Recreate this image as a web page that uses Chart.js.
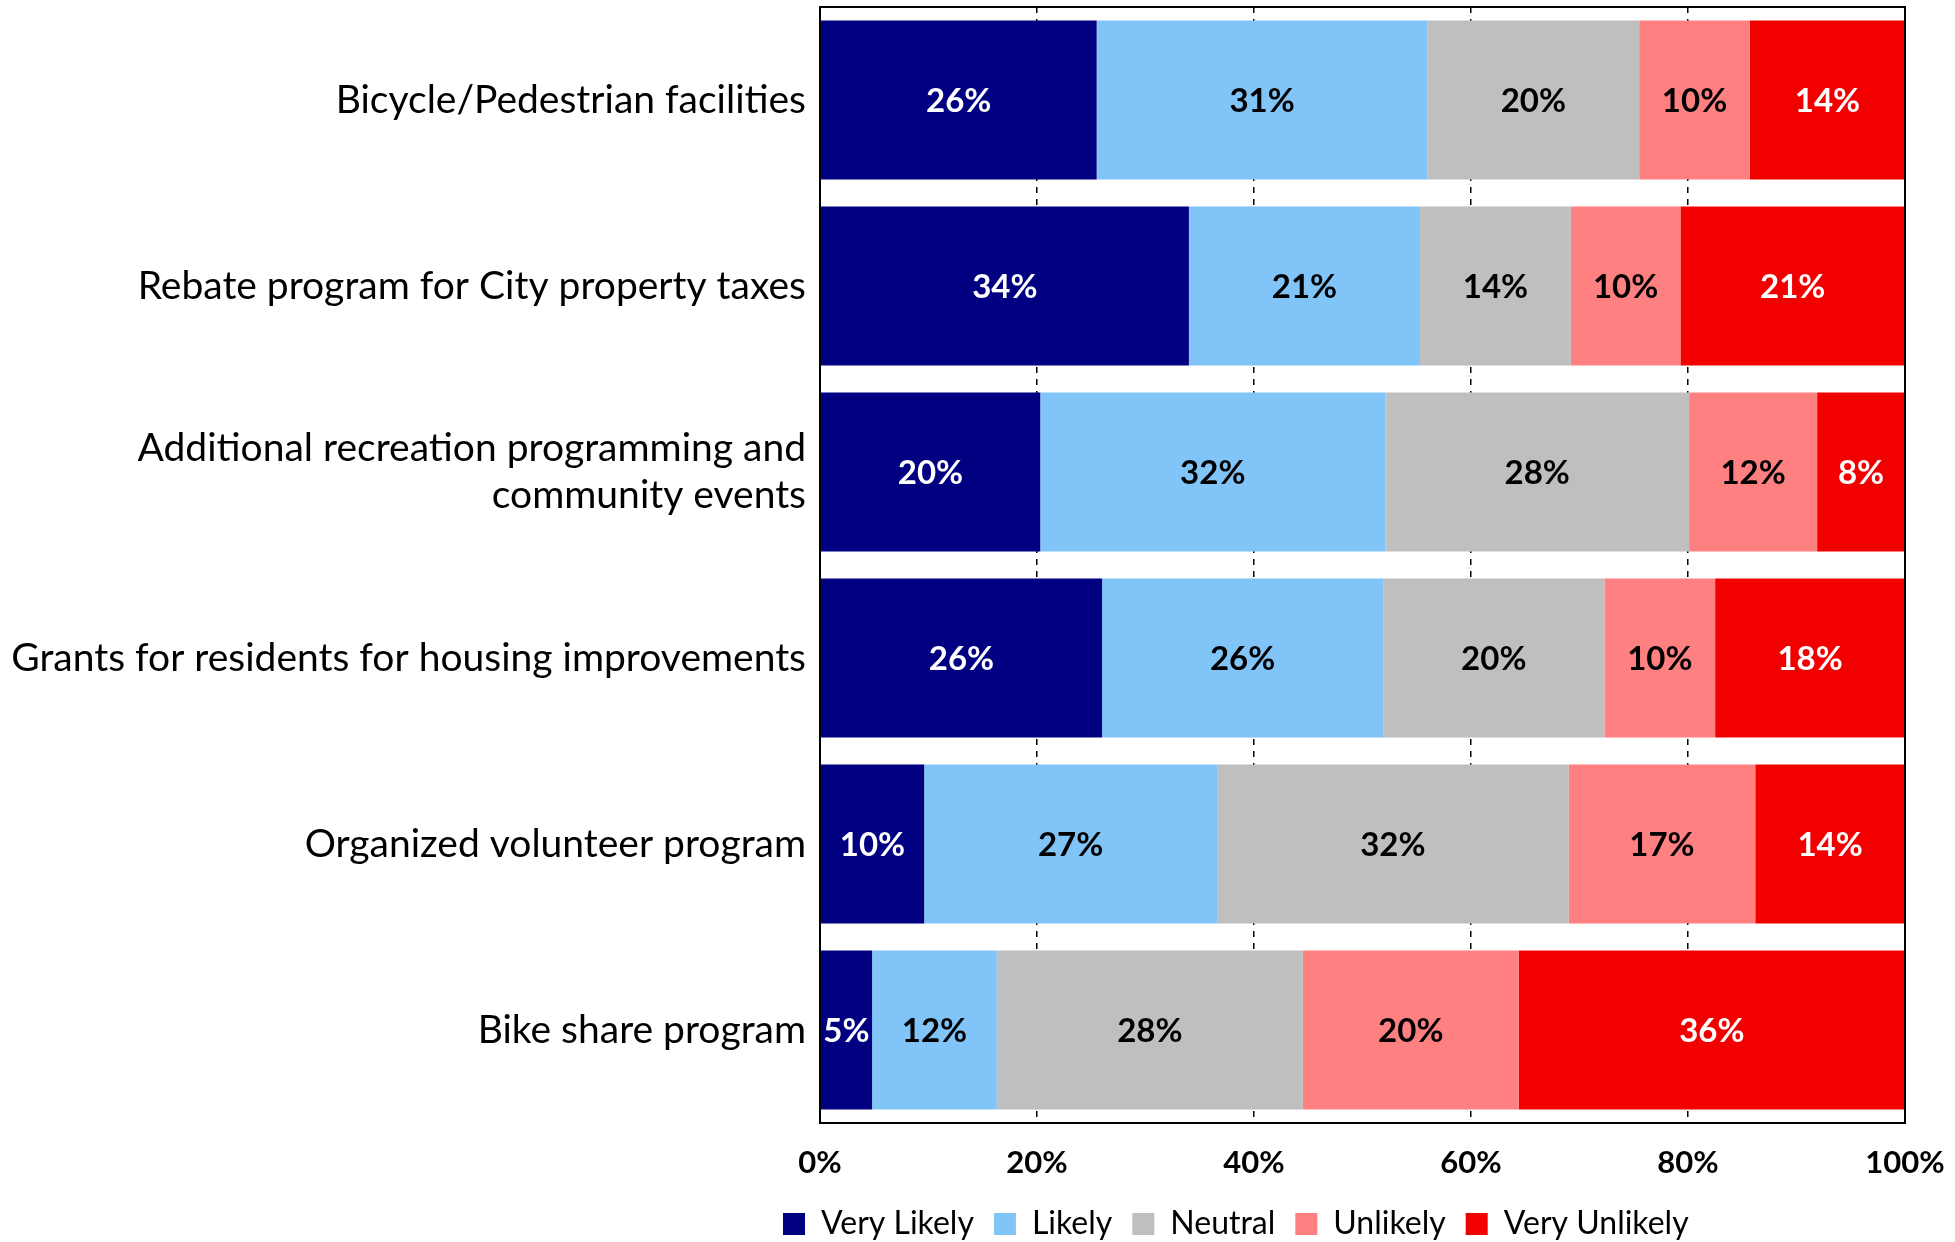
<!DOCTYPE html>
<html>
<head>
<meta charset="utf-8">
<script src="https://cdn.jsdelivr.net/npm/chart.js@4.4.1/dist/chart.umd.min.js"></script>
<style>
  html, body { margin: 0; padding: 0; background: #fff; }
  #wrap { width: 1955px; height: 1242px; }
</style>
</head>
<body>
<div id="wrap"><canvas id="chart" width="1955" height="1242"></canvas></div>
<script>
// survey items, top to bottom
const categories = [
    'Bicycle/Pedestrian facilities',
    'Rebate program for City property taxes',
    ['Additional recreation programming and', 'community events'],
    'Grants for residents for housing improvements',
    'Organized volunteer program',
    'Bike share program'
];

// shares (percent)
const veryLikely   = [25.5, 34.0, 20.3, 26.0,  9.6,  4.8];
const likely       = [30.5, 21.3, 31.8, 25.9, 27.0, 11.5];
const neutral      = [19.5, 13.9, 28.0, 20.4, 32.4, 28.2];
const unlikely     = [10.2, 10.1, 11.8, 10.2, 17.2, 19.9];
const veryUnlikely = [14.3, 20.7,  8.1, 17.5, 13.8, 35.6];

const xTicks = [0, 20, 40, 60, 80, 100];

const FONT = 'Lato, "Open Sans", sans-serif';

const series = [
    { label: 'Very Likely',   data: veryLikely,   color: '#000080', text: '#ffffff' },
    { label: 'Likely',        data: likely,       color: '#80c4f8', text: '#000000' },
    { label: 'Neutral',       data: neutral,      color: '#bfbfbf', text: '#000000' },
    { label: 'Unlikely',      data: unlikely,     color: '#ff8080', text: '#000000' },
    { label: 'Very Unlikely', data: veryUnlikely, color: '#f20000', text: '#ffffff' }
];

// percent labels in the middle of each segment
const barLabels = {
    id: 'barLabels',
    afterDatasetsDraw(chart) {
        const ctx = chart.ctx;
        ctx.save();
        ctx.font = 'bold 33px ' + FONT;
        ctx.textAlign = 'center';
        ctx.textBaseline = 'middle';
        chart.data.datasets.forEach((ds, i) => {
            const meta = chart.getDatasetMeta(i);
            ctx.fillStyle = series[i].text;
            meta.data.forEach((bar, j) => {
                const cx = (bar.x + bar.base) / 2;
                ctx.fillText(Math.round(ds.data[j]) + '%', cx, bar.y + 1);
            });
        });
        ctx.restore();
    }
};

// black frame round the plot area
const frame = {
    id: 'frame',
    afterDraw(chart) {
        const a = chart.chartArea;
        const ctx = chart.ctx;
        ctx.save();
        ctx.strokeStyle = '#000';
        ctx.lineWidth = 2;
        ctx.strokeRect(a.left, a.top, a.right - a.left, a.bottom - a.top);
        ctx.restore();
    }
};

// move the legend so it starts under the labels, like the original
const legendShift = {
    id: 'legendShift',
    afterLayout(chart) {
        const lg = chart.legend;
        const dx = 763 - lg.left;
        lg.left += dx;
        lg.right += dx;
        lg.top += 8;
        lg.bottom += 8;
    }
};

new Chart(document.getElementById('chart'), {
    type: 'bar',
    data: {
        labels: categories,
        datasets: series.map(s => ({
            label: s.label,
            data: s.data,
            backgroundColor: s.color,
            borderWidth: 0,
            barPercentage: 0.855,
            categoryPercentage: 1
        }))
    },
    options: {
        indexAxis: 'y',
        responsive: false,
        animation: false,
        layout: { padding: { top: 7, right: 50, bottom: 0, left: 0 } },
        scales: {
            x: {
                stacked: true,
                min: 0,
                max: 100,
                afterBuildTicks: axis => { axis.ticks = xTicks.map(v => ({ value: v })); },
                afterFit: axis => {
                    axis.height = 57;
                    axis.paddingLeft = 0;
                    axis.paddingRight = 0;
                },
                ticks: {
                    color: '#000',
                    font: { family: FONT, size: 31, weight: 'bold' },
                    padding: 21,
                    callback: v => v + '%'
                },
                grid: {
                    drawTicks: false,
                    color: c => (c.tick && (c.tick.value === 0 || c.tick.value === 100)) ? 'rgba(0,0,0,0)' : '#000',
                    lineWidth: 1.5
                },
                border: { display: true, color: '#000', width: 2, dash: [6, 6] }
            },
            y: {
                stacked: true,
                afterFit: axis => {
                    axis.width = 820;
                    axis.paddingTop = 0;
                    axis.paddingBottom = 0;
                },
                ticks: {
                    color: '#000',
                    font: { family: FONT, size: 39 },
                    padding: 14
                },
                grid: { display: false, drawTicks: false },
                border: { display: true, color: '#000', width: 2 }
            }
        },
        plugins: {
            legend: {
                position: 'bottom',
                align: 'start',
                labels: {
                    color: '#000',
                    font: { family: FONT, size: 32 },
                    boxWidth: 22,
                    boxHeight: 22,
                    padding: 20
                }
            },
            tooltip: { enabled: false }
        }
    },
    plugins: [barLabels, frame, legendShift]
});
</script>
</body>
</html>
